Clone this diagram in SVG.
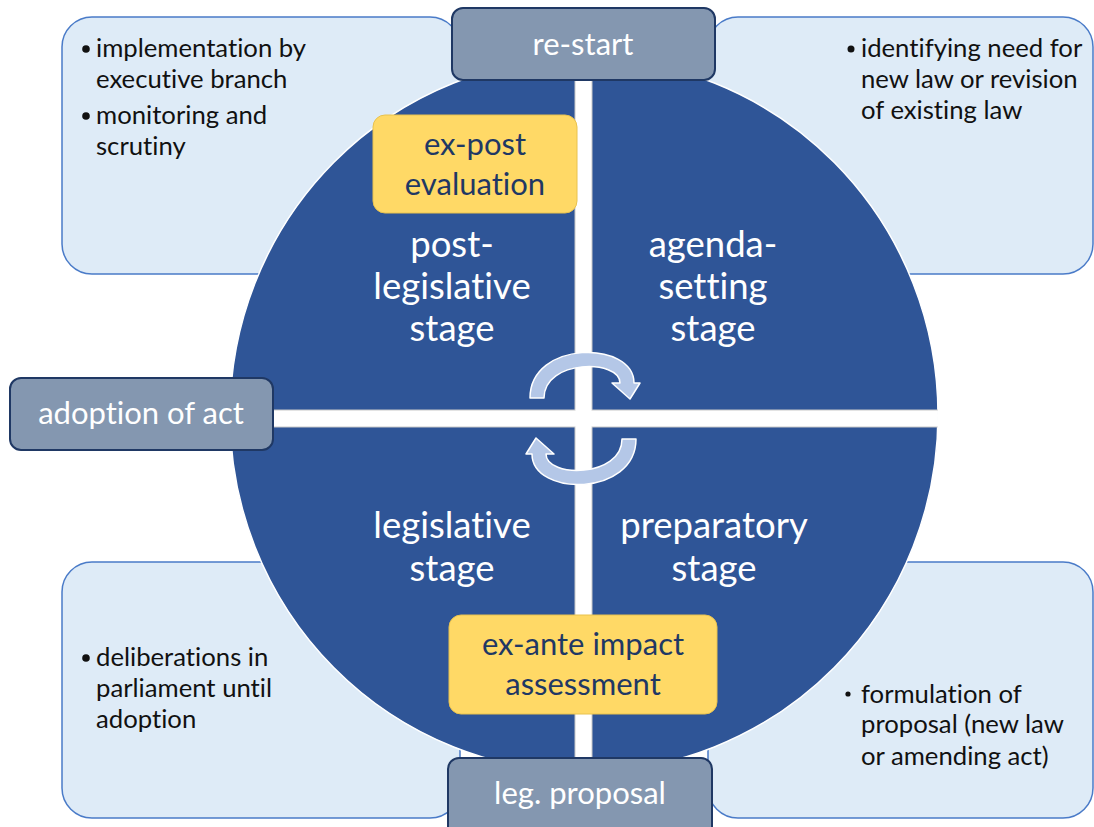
<svg xmlns="http://www.w3.org/2000/svg" width="1094" height="827" viewBox="0 0 1094 827">
  <style>
    text { font-variant-ligatures: none; font-feature-settings: "liga" 0, "clig" 0; }
    .note { fill: #DEEBF7; stroke: #4A7BC8; stroke-width: 1.5; }
    .bullet { font-family: Lato, "Open Sans", sans-serif; font-size: 25.7px; fill: #111111; }
    .dot { fill: #111111; }
    .milestone { fill: #8497B0; stroke: #1F3864; stroke-width: 2; }
    .milestone-label { font-family: Lato, "Open Sans", sans-serif; font-size: 31px; fill: #FFFFFF; text-anchor: middle; }
    .eval { fill: #FFD966; stroke: #E8C24F; stroke-width: 1; }
    .eval-label { font-family: Lato, "Open Sans", sans-serif; font-size: 31px; fill: #1F3864; text-anchor: middle; }
    .stage-label { font-family: Lato, "Open Sans", sans-serif; font-size: 36.5px; fill: #FFFFFF; text-anchor: middle; }
    .gap { fill: #FFFFFF; stroke: #C8C8C8; stroke-width: 1; }
    .cycle { fill: #B4C7E7; stroke: #FFFFFF; stroke-width: 1.5; stroke-linejoin: round; }
  </style>
  <defs>
    <clipPath id="discClip">
      <ellipse cx="584" cy="415" rx="354" ry="357"/>
    </clipPath>
    <path id="cycleArrow" d="M 530 398 C 530 340, 634 340, 634 383 L 640 383 L 630 399 L 612 383 L 620 383 C 620 359, 544 359, 544 398 Z"/>
  </defs>

  <rect width="1094" height="827" fill="#FFFFFF"/>

  <!-- side notes -->
  <g id="note-post-legislative">
    <rect class="note" x="62" y="17" width="398" height="257" rx="30" ry="30"/>
    <circle class="dot" cx="86" cy="49" r="3.8"/>
    <text class="bullet" x="96" y="57">implementation by</text>
    <text class="bullet" x="96" y="88">executive branch</text>
    <circle class="dot" cx="86" cy="116" r="3.8"/>
    <text class="bullet" x="96" y="124">monitoring and</text>
    <text class="bullet" x="96" y="155">scrutiny</text>
  </g>
  <g id="note-agenda-setting">
    <rect class="note" x="708" y="17" width="385" height="257" rx="30" ry="30"/>
    <circle class="dot" cx="851" cy="49" r="3.5"/>
    <text class="bullet" x="861" y="57">identifying need for</text>
    <text class="bullet" x="861" y="88">new law or revision</text>
    <text class="bullet" x="861" y="119">of existing law</text>
  </g>
  <g id="note-legislative">
    <rect class="note" x="62" y="562" width="398" height="256" rx="30" ry="30"/>
    <circle class="dot" cx="86" cy="658" r="3.8"/>
    <text class="bullet" x="96" y="666">deliberations in</text>
    <text class="bullet" x="96" y="697">parliament until</text>
    <text class="bullet" x="96" y="728">adoption</text>
  </g>
  <g id="note-preparatory">
    <rect class="note" x="708" y="562" width="385" height="256" rx="30" ry="30"/>
    <circle class="dot" cx="848" cy="694" r="2.6"/>
    <text class="bullet" x="861" y="703">formulation of</text>
    <text class="bullet" x="861" y="733">proposal (new law</text>
    <text class="bullet" x="861" y="765">or amending act)</text>
  </g>

  <!-- central disc split into four stages -->
  <g id="stage-disc">
    <ellipse cx="584" cy="415" rx="354" ry="357" fill="#2F5597" stroke="#FFFFFF" stroke-width="1.5"/>
    <g clip-path="url(#discClip)">
      <rect class="gap" x="575" y="40" width="17" height="760"/>
      <rect class="gap" x="200" y="410" width="760" height="17"/>
      <rect x="575.5" y="409" width="16" height="19" fill="#FFFFFF"/>
    </g>
  </g>

  <!-- cycle direction arrows -->
  <g id="connectors">
    <use href="#cycleArrow" class="cycle"/>
    <use href="#cycleArrow" class="cycle" transform="rotate(180 583 418.5)"/>
  </g>

  <g id="stage-post-legislative">
    <text class="stage-label" x="452" y="257">post-</text>
    <text class="stage-label" x="452" y="299">legislative</text>
    <text class="stage-label" x="452" y="341">stage</text>
  </g>
  <g id="stage-agenda-setting">
    <text class="stage-label" x="713" y="257">agenda-</text>
    <text class="stage-label" x="713" y="299">setting</text>
    <text class="stage-label" x="713" y="341">stage</text>
  </g>
  <g id="stage-legislative">
    <text class="stage-label" x="452" y="538">legislative</text>
    <text class="stage-label" x="452" y="581">stage</text>
  </g>
  <g id="stage-preparatory">
    <text class="stage-label" x="714" y="538">preparatory</text>
    <text class="stage-label" x="714" y="581">stage</text>
  </g>

  <!-- evaluation instruments -->
  <g id="ex-post-evaluation">
    <rect class="eval" x="373" y="115" width="204" height="98" rx="12" ry="12"/>
    <text class="eval-label" x="475" y="155">ex-post</text>
    <text class="eval-label" x="475" y="195">evaluation</text>
  </g>
  <g id="ex-ante-impact-assessment">
    <rect class="eval" x="449" y="615" width="268" height="99" rx="12" ry="12"/>
    <text class="eval-label" x="583" y="655">ex-ante impact</text>
    <text class="eval-label" x="583" y="695">assessment</text>
  </g>

  <!-- transition milestones -->
  <g id="re-start">
    <rect class="milestone" x="452" y="8" width="263" height="72" rx="11" ry="11"/>
    <text class="milestone-label" x="583" y="55">re-start</text>
  </g>
  <g id="adoption-of-act">
    <rect class="milestone" x="10" y="378" width="263" height="72" rx="11" ry="11"/>
    <text class="milestone-label" x="141" y="424">adoption of act</text>
  </g>
  <g id="leg-proposal">
    <rect class="milestone" x="448" y="758" width="264" height="80" rx="11" ry="11"/>
    <text class="milestone-label" x="580" y="804">leg. proposal</text>
  </g>
</svg>
